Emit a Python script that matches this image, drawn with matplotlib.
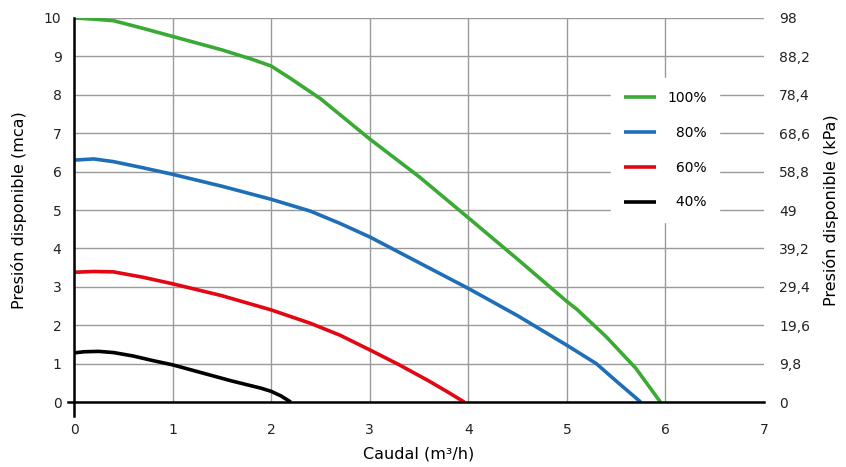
import matplotlib
matplotlib.use('Agg')
import matplotlib.pyplot as plt

# (caudal m3/h, presion mca)
q100 = [0, 0.2, 0.4, 0.7, 1.0, 1.5, 1.8, 2.0, 2.2, 2.5, 3.0, 3.5, 4.0, 4.5, 5.0, 5.1, 5.4, 5.7, 5.95]
p100 = [10.0, 9.97, 9.93, 9.73, 9.52, 9.17, 8.93, 8.75, 8.42, 7.9, 6.85, 5.87, 4.8, 3.72, 2.62, 2.42, 1.7, 0.88, 0]

q80 = [0, 0.2, 0.4, 0.7, 1.0, 1.5, 2.0, 2.4, 2.7, 3.0, 3.5, 4.0, 4.5, 5.0, 5.3, 5.5, 5.75]
p80 = [6.3, 6.33, 6.26, 6.1, 5.93, 5.62, 5.28, 4.97, 4.65, 4.3, 3.63, 2.96, 2.25, 1.48, 1.0, 0.55, 0]

q60 = [0, 0.2, 0.4, 0.7, 1.0, 1.5, 2.0, 2.4, 2.7, 3.0, 3.3, 3.6, 3.8, 3.96]
p60 = [3.38, 3.4, 3.39, 3.25, 3.08, 2.77, 2.4, 2.05, 1.74, 1.36, 0.97, 0.55, 0.25, 0]

q40 = [0, 0.1, 0.25, 0.4, 0.6, 0.8, 1.0, 1.3, 1.6, 1.9, 2.0, 2.1, 2.2]
p40 = [1.28, 1.31, 1.32, 1.29, 1.2, 1.08, 0.97, 0.76, 0.55, 0.36, 0.28, 0.16, 0]

series = [('100%', q100, p100, '#3aaa35'),
          ('\u200780%', q80, p80, '#1f6fb8'),
          ('\u200760%', q60, p60, '#e30613'),
          ('\u200740%', q40, p40, '#000000')]

xticks = [0, 1, 2, 3, 4, 5, 6, 7]
yticks = [0, 1, 2, 3, 4, 5, 6, 7, 8, 9, 10]
kpa_labels = ['0', '9,8', '19,6', '29,4', '39,2', '49', '58,8', '68,6', '78,4', '88,2', '98']

plt.rcParams['font.family'] = ['DejaVu Sans']
fig = plt.figure(figsize=(8.46, 4.67), dpi=100)
ax = fig.add_axes([0.0875, 0.139, 0.8155, 0.8225])

for lab, q, p, c in series:
    ax.plot(q, p, color=c, lw=2.6, label=lab, solid_capstyle='butt', zorder=3)

ax.set_xlim(0, 7)
ax.set_ylim(0, 10)
ax.set_xticks(xticks)
ax.set_yticks(yticks)
ax.tick_params(length=0, labelsize=10, colors='#222222')
ax.tick_params(axis='x', pad=15)
ax.tick_params(axis='y', pad=9)
ax.grid(True, color='#9a9a9a', lw=1)
ax.xaxis.get_gridlines()[-1].set_visible(False)
for s in ax.spines.values():
    s.set_visible(False)
# black axis lines, slightly overshooting at the origin
ax.plot([0, 0], [-0.035, 1], color='black', lw=1.8, transform=ax.transAxes, clip_on=False, zorder=4)
ax.plot([-0.009, 1], [0, 0], color='black', lw=1.8, transform=ax.transAxes, clip_on=False, zorder=4)

ax.set_xlabel('Caudal (m³/h)', fontsize=11.5, labelpad=7)
ax.set_ylabel('Presión disponible (mca)', fontsize=11.5, labelpad=12)

ax2 = ax.twinx()
ax2.set_ylim(0, 10)
ax2.set_yticks(yticks)
ax2.set_yticklabels(kpa_labels)
ax2.tick_params(length=0, labelsize=10, colors='#222222', pad=11)
for s in ax2.spines.values():
    s.set_visible(False)
ax2.set_ylabel('Presión disponible (kPa)', fontsize=11.5, labelpad=9)

leg = ax.legend(loc='center', bbox_to_anchor=(0.857, 0.656), frameon=True, framealpha=1,
                edgecolor='white', facecolor='white', fontsize=10, handlelength=2.3,
                handletextpad=0.8, labelspacing=1.5, borderpad=0.9, fancybox=False)
leg.set_zorder(5)

fig.savefig('out.png', dpi=100)
